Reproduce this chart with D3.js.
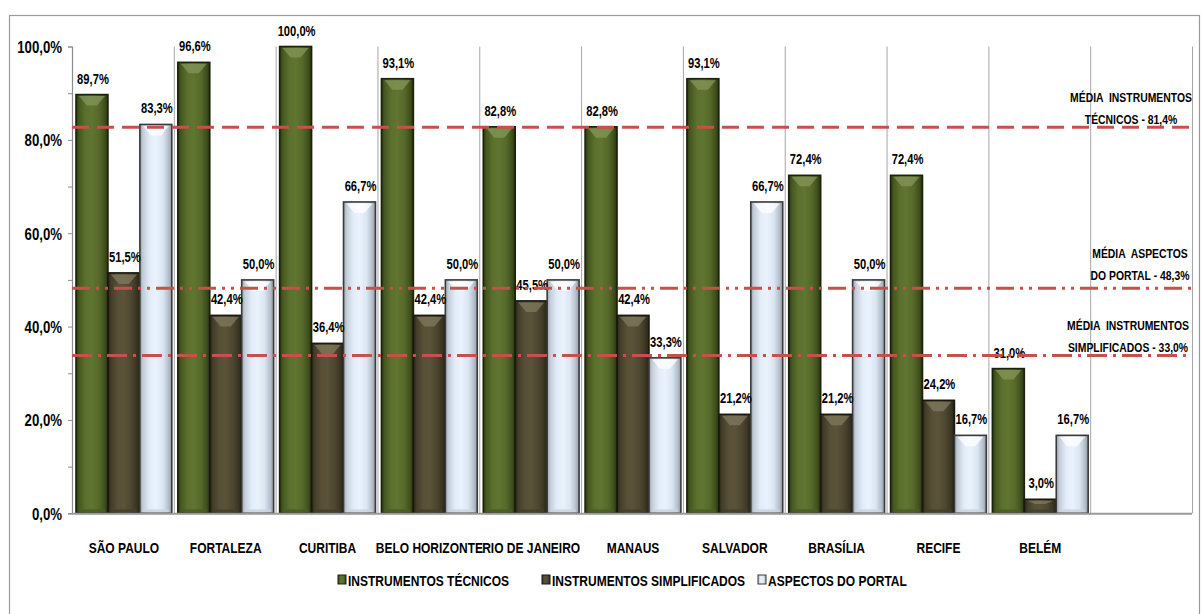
<!DOCTYPE html>
<html>
<head>
<meta charset="utf-8">
<script src="https://cdn.jsdelivr.net/npm/d3@7"></script>
<style>
  html, body { margin: 0; padding: 0; background: #fff; }
  svg { display: block; }
  text { font-family: "Liberation Sans", Arial, sans-serif; font-weight: bold; fill: #000; }
</style>
</head>
<body>
<script>
// ---------- DATA ----------
const cities = ["SÃO PAULO", "FORTALEZA", "CURITIBA", "BELO HORIZONTE", "RIO DE JANEIRO", "MANAUS", "SALVADOR", "BRASÍLIA", "RECIFE", "BELÉM"];
const seriesNames = ["INSTRUMENTOS TÉCNICOS", "INSTRUMENTOS SIMPLIFICADOS", "ASPECTOS DO PORTAL"];
const tecnicos      = [89.7, 96.6, 100.0, 93.1, 82.8, 82.8, 93.1, 72.4, 72.4, 31.0];
const simplificados = [51.5, 42.4, 36.4, 42.4, 45.5, 42.4, 21.2, 21.2, 24.2, 3.0];
const aspectos      = [83.3, 50.0, 66.7, 50.0, 50.0, 33.3, 66.7, 50.0, 16.7, 16.7];
const yTicks = [0, 20, 40, 60, 80, 100];
const meanLevels = [82.7, 48.2, 33.8];
const meanLabels = [["MÉDIA  INSTRUMENTOS", "TÉCNICOS - 81,4%"], ["MÉDIA  ASPECTOS", "DO PORTAL - 48,3%"], ["MÉDIA  INSTRUMENTOS", "SIMPLIFICADOS - 33,0%"]];

// ---------- LAYOUT ----------
const W = 1201, H = 614;
const plot = { left: 72, right: 1192, top: 46.5, bottom: 513.3 };
const SX = 0.8; // horizontal condensing to mimic a narrow face
const svg = d3.select("body").append("svg").attr("width", W).attr("height", H);

function addText(parent, x, y, str, size, anchor) {
  return parent.append("text")
    .attr("transform", `translate(${x},${y}) scale(${SX},1)`)
    .attr("text-anchor", anchor || "start")
    .style("font-size", size + "px")
    .attr("xml:space", "preserve")
    .text(str);
}

svg.append("rect").attr("x", 9.5).attr("y", 15.5).attr("width", 1190).attr("height", 620)
  .attr("fill", "#fff").attr("stroke", "#9a9a9a").attr("stroke-width", 1.2);

const slots = cities.concat([" "]);
const x = d3.scaleBand().domain(slots).range([plot.left, plot.right]).paddingInner(0).paddingOuter(0);
const xs = d3.scaleBand().domain(d3.range(3)).range([4, x.bandwidth() - 2]).paddingInner(0);
const y = d3.scaleLinear().domain([0, 100]).range([plot.bottom, plot.top]);

// ---------- gradients ----------
const styles = [
  { stops: ["#2c3912", "#46581f", "#5b702d", "#607530", "#56692a", "#3f4f1c", "#28330e"], top: "#84975a", bottom: "#4a5b23", stroke: "#1b220c" },
  { stops: ["#2a2619", "#433d29", "#575036", "#5a5339", "#4e4731", "#3a3523", "#252217"], top: "#80795e", bottom: "#443e2b", stroke: "#1a1812" },
  { stops: ["#9aa2ac", "#c4ced9", "#e2ecf8", "#eaf2fc", "#dbe6f3", "#b4bfcb", "#8d96a1"], top: "#ffffff", bottom: "#c9d3de", stroke: "#3a3a3a" }
];
const defs = svg.append("defs");
styles.forEach((s, i) => {
  const g = defs.append("linearGradient").attr("id", "g" + i).attr("x1", "0").attr("x2", "1").attr("y1", "0").attr("y2", "0");
  const offs = [0, 0.1, 0.3, 0.5, 0.72, 0.9, 1];
  s.stops.forEach((c, k) => g.append("stop").attr("offset", offs[k]).attr("stop-color", c));
});

// ---------- gridlines ----------
const bounds = slots.map(d => x(d)).concat([plot.right]);
svg.append("g").selectAll("line").data(bounds.slice(1)).join("line")
  .attr("x1", d => d + 0.5).attr("x2", d => d + 0.5)
  .attr("y1", plot.top).attr("y2", plot.bottom)
  .attr("stroke", "#a6a6a6").attr("stroke-width", 1);

// ---------- bars ----------
const seriesData = [tecnicos, simplificados, aspectos];
const barsG = svg.append("g");
cities.forEach((c, ci) => {
  seriesData.forEach((arr, si) => {
    const v = arr[ci];
    const bx = x(c) + xs(si), bw = xs.bandwidth();
    const by = y(v), bh = y(0) - y(v);
    const s = styles[si];
    const g = barsG.append("g");
    g.append("rect").attr("x", bx).attr("y", by).attr("width", bw).attr("height", bh)
      .attr("fill", "url(#g" + si + ")");
    const inset = 3;
    if (bh > 8) {
      const th = Math.min(11, bh / 3);
      g.append("polygon").attr("points", [
        [bx + inset, by + 1.5], [bx + bw - inset, by + 1.5],
        [bx + bw / 2 + 5, by + th], [bx + bw / 2 - 5, by + th]
      ].map(p => p.join(",")).join(" ")).attr("fill", s.top).attr("opacity", 0.75);
      g.append("rect").attr("x", bx + inset).attr("y", by + bh - 4).attr("width", bw - 2 * inset).attr("height", 3)
        .attr("fill", s.bottom).attr("opacity", 0.8);
    } else {
      g.append("rect").attr("x", bx + inset).attr("y", by + bh / 2 - 0.5).attr("width", bw - 2 * inset).attr("height", 1)
        .attr("fill", s.top).attr("opacity", 0.6);
    }
    g.append("rect").attr("x", bx).attr("y", by).attr("width", bw).attr("height", bh)
      .attr("fill", "none").attr("stroke", s.stroke).attr("stroke-width", 1.6);
  });
});

// ---------- axes ----------
const yAxis = d3.axisLeft(y).tickValues(yTicks).tickSize(4).tickPadding(6)
  .tickFormat(d => d3.format(".1f")(d).replace(".", ",") + "%");
const ya = svg.append("g").attr("transform", `translate(${plot.left},0)`).call(yAxis);
ya.select(".domain").attr("stroke", "#8c8c8c").attr("stroke-width", 1.2);
ya.selectAll(".tick line").attr("stroke", "#8c8c8c");
ya.selectAll(".tick text").remove();
ya.selectAll(".tick").each(function(d) {
  addText(d3.select(this), -10, 6, d3.format(".1f")(d).replace(".", ",") + "%", 16.5, "end");
});
svg.append("g").selectAll("line").data(d3.range(10, 100, 20)).join("line")
  .attr("x1", plot.left - 4).attr("x2", plot.left).attr("y1", d => y(d) + 0.5).attr("y2", d => y(d) + 0.5)
  .attr("stroke", "#8c8c8c");

svg.append("line").attr("x1", plot.left).attr("x2", plot.right).attr("y1", y(0) + 0.5).attr("y2", y(0) + 0.5)
  .attr("stroke", "#9a9a9a").attr("stroke-width", 2);

// category labels
const catG = svg.append("g");
cities.forEach(c => addText(catG, x(c) + x.bandwidth() / 2 + 1, 553, c, 15, "middle"));

// ---------- data labels ----------
const fmt = v => d3.format(".1f")(v).replace(".", ",") + "%";
const lblG = svg.append("g");
cities.forEach((c, ci) => {
  seriesData.forEach((arr, si) => {
    const v = arr[ci];
    addText(lblG, x(c) + xs(si) + xs.bandwidth() / 2 + 1, y(v) - 11, fmt(v), 14, "middle");
  });
});

// ---------- mean lines ----------
const dashes = ["17,8", "18,6,3,6,3,6", "20,6,3,6"];
meanLevels.forEach((m, i) => {
  svg.append("line").attr("x1", plot.left).attr("x2", plot.right).attr("y1", y(m)).attr("y2", y(m))
    .attr("stroke", "#c8504c").attr("stroke-width", 3).attr("stroke-dasharray", dashes[i]);
});
const meanLabelPos = [[1131, 102], [1140, 258], [1128, 330]];
const meanG = svg.append("g");
meanLabels.forEach((lines, i) => {
  lines.forEach((l, k) => addText(meanG, meanLabelPos[i][0], meanLabelPos[i][1] + k * 21.5, l, 13, "middle"));
});

// ---------- legend ----------
const legendX = [338, 542, 758];
const legend = svg.append("g");
seriesNames.forEach((n, i) => {
  legend.append("rect").attr("x", legendX[i]).attr("y", 575).attr("width", 8).attr("height", 9)
    .attr("fill", "url(#g" + i + ")").attr("stroke", styles[i].stroke).attr("stroke-width", 1);
  addText(legend, legendX[i] + 10, 585.5, n, 15, "start");
});
</script>
</body>
</html>
